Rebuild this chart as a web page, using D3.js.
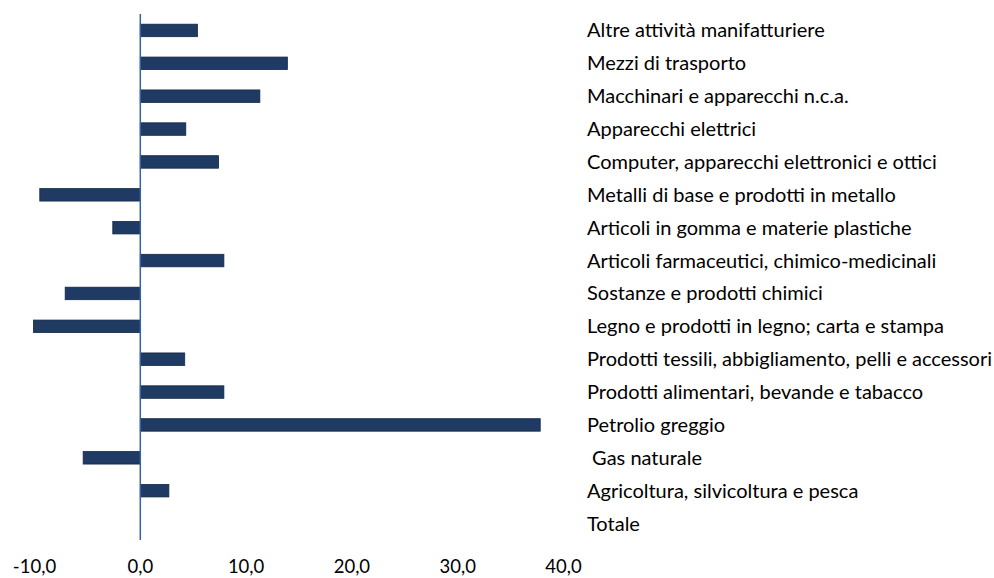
<!DOCTYPE html>
<html>
<head>
<meta charset="utf-8">
<script src="https://cdn.jsdelivr.net/npm/d3@7"></script>
<style>
	body { margin: 0; background: #fff; }
	text { font-family: Lato, "Open Sans", sans-serif; fill: #000; }
</style>
</head>
<body>
<div id="chart"></div>
<script>
var categories = [
	"Altre attività manifatturiere",
	"Mezzi di trasporto",
	"Macchinari e apparecchi n.c.a.",
	"Apparecchi elettrici",
	"Computer, apparecchi elettronici e ottici",
	"Metalli di base e prodotti in metallo",
	"Articoli in gomma e materie plastiche",
	"Articoli farmaceutici, chimico-medicinali",
	"Sostanze e prodotti chimici",
	"Legno e prodotti in legno; carta e stampa",
	"Prodotti tessili, abbigliamento, pelli e accessori",
	"Prodotti alimentari, bevande e tabacco",
	"Petrolio greggio",
	" Gas naturale",
	"Agricoltura, silvicoltura e pesca",
	"Totale"
];
var values = [5.4, 13.9, 11.3, 4.3, 7.4, -9.5, -2.6, 7.9, -7.1, -10.1, 4.2, 7.9, 37.8, -5.4, 2.7, 0];
var ticks = [-10, 0, 10, 20, 30, 40];

var width = 994, height = 578;
var svg = d3.select("#chart").append("svg")
	.attr("width", width)
	.attr("height", height);

var x = d3.scaleLinear()
	.domain([-10, 40])
	.range([34.5, 563.5]);

var y = d3.scaleBand()
	.domain(categories)
	.range([14, 540]);

var barH = y.bandwidth() * 0.38;

// bars
svg.append("g")
	.selectAll("rect")
	.data(values)
	.enter().append("rect")
	.attr("x", function (d) { return x(Math.min(0, d)); })
	.attr("y", function (d, i) { return y(categories[i]) + (y.bandwidth() - barH) / 2; })
	.attr("width", function (d) { return Math.abs(x(d) - x(0)); })
	.attr("height", barH)
	.attr("fill", "#1f3a63")
	.attr("stroke", "#142848")
	.attr("stroke-width", 0.8);

// zero line
svg.append("line")
	.attr("x1", x(0)).attr("x2", x(0))
	.attr("y1", 14).attr("y2", 540)
	.attr("stroke", "#3561a8")
	.attr("stroke-width", 1.5);

// category labels on the right
svg.append("g")
	.selectAll("text")
	.data(categories)
	.enter().append("text")
	.attr("x", 587)
	.attr("y", function (d) { return y(d) + y.bandwidth() / 2; })
	.attr("dy", "0.35em")
	.attr("font-size", 20)
	.style("white-space", "pre")
	.text(function (d) { return d; });

// x tick labels
var fmt = function (d) { return d3.format(".1f")(d).replace(".", ",").replace("−", "-"); };
svg.append("g")
	.selectAll("text")
	.data(ticks)
	.enter().append("text")
	.attr("x", function (d) { return x(d); })
	.attr("y", 567)
	.attr("dy", "0.35em")
	.attr("text-anchor", "middle")
	.attr("font-size", 18.5)
	.text(fmt);
</script>
</body>
</html>
